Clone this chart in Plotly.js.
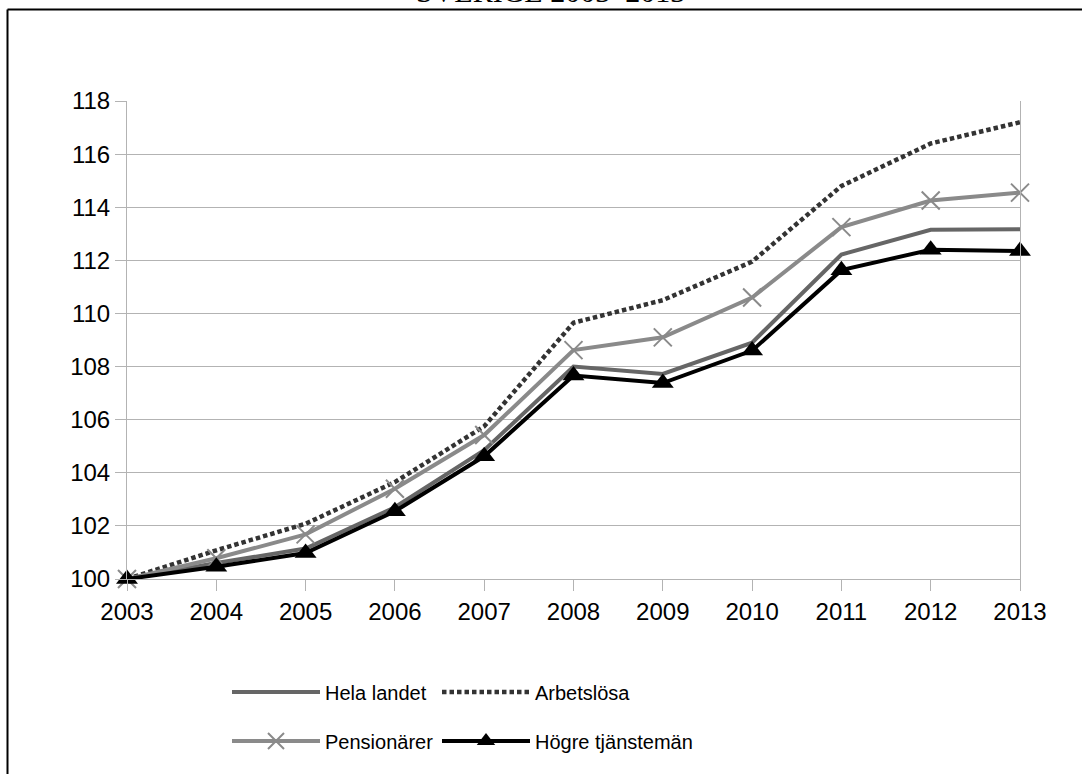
<!DOCTYPE html>
<html>
<head>
<meta charset="utf-8">
<script src="https://cdn.plot.ly/plotly-3.0.1.min.js"></script>
<style>html,body{margin:0;padding:0;background:#fff;overflow:hidden;}#chart{width:1082px;height:774px;}</style>
</head>
<body>
<div id="chart"></div>
<script>
const years = [2003, 2004, 2005, 2006, 2007, 2008, 2009, 2010, 2011, 2012, 2013];
const helaLandet = [100, 100.6, 101.15, 102.7, 104.85, 108.0, 107.72, 108.9, 112.22, 113.15, 113.17];
const arbetslosa = [100, 101.08, 102.08, 103.65, 105.75, 109.65, 110.5, 111.95, 114.8, 116.4, 117.2];
const pensionarer = [100, 100.78, 101.68, 103.4, 105.42, 108.62, 109.1, 110.6, 113.25, 114.25, 114.55];
const hogreTjanstemän = [100, 100.46, 100.98, 102.55, 104.62, 107.66, 107.38, 108.6, 111.63, 112.4, 112.35];
const seriesNames = ["Hela landet", "Arbetslösa", "Pensionärer", "Högre tjänstemän"];
const yTicks = [100, 102, 104, 106, 108, 110, 112, 114, 116, 118];
const chartTitle = "SVERIGE 2003–2013";

const FONT = "Liberation Sans, Arial, sans-serif";

const traces = [
  {x: years, y: helaLandet, name: seriesNames[0], type: "scatter", mode: "lines",
   line: {color: "#666666", width: 4}, legend: "legend", legendwidth: 107, cliponaxis: false},
  {x: years, y: arbetslosa, name: seriesNames[1], type: "scatter", mode: "lines",
   line: {color: "#333333", width: 4.5, dash: "4.5px,3px"}, legend: "legend", legendwidth: 300, cliponaxis: false},
  {x: years, y: pensionarer, name: seriesNames[2], type: "scatter", mode: "lines+markers",
   line: {color: "#8a8a8a", width: 4},
   marker: {symbol: "x-thin-open", size: 18, color: "#8a8a8a", line: {color: "#8a8a8a", width: 2}},
   legend: "legend2", legendwidth: 107, cliponaxis: false},
  {x: years, y: hogreTjanstemän, name: seriesNames[3], type: "scatter", mode: "lines+markers",
   line: {color: "#000000", width: 4},
   marker: {symbol: "triangle-up", size: 19, color: "#000000"},
   legend: "legend2", legendwidth: 300, cliponaxis: false}
];

const legendCommon = {
  orientation: "h", xref: "paper", yref: "paper", xanchor: "left", yanchor: "middle",
  font: {family: FONT, size: 20, color: "#000"}, itemwidth: 88,
  entrywidthmode: "pixels", bgcolor: "rgba(0,0,0,0)", borderwidth: 0,
  itemclick: false, itemdoubleclick: false
};

const layout = {
  width: 1082, height: 774,
  paper_bgcolor: "#ffffff", plot_bgcolor: "#ffffff",
  margin: {l: 127, r: 62, t: 101, b: 195, autoexpand: false},
  font: {family: FONT, size: 24, color: "#000"},
  xaxis: {
    type: "linear", range: [2003, 2013], tickvals: years, ticktext: years.map(String),
    showgrid: false, zeroline: false, showline: true, linecolor: "#b3b3b3", linewidth: 1,
    ticks: "outside", ticklen: 11, tickcolor: "#b3b3b3", tickwidth: 1,
    tickfont: {family: FONT, size: 24, color: "#000"}, fixedrange: true
  },
  yaxis: {
    range: [100, 118], tickvals: yTicks, ticktext: yTicks.map(String),
    showgrid: true, gridcolor: "#b3b3b3", gridwidth: 1, zeroline: false,
    showline: true, mirror: true, linecolor: "#b3b3b3", linewidth: 1,
    ticks: "outside", ticklen: 11, tickcolor: "#b3b3b3", tickwidth: 1,
    tickfont: {family: FONT, size: 24, color: "#000"}, fixedrange: true
  },
  legend: Object.assign({}, legendCommon, {x: (227 - 127) / 893, y: (579 - 692) / 478}),
  legend2: Object.assign({}, legendCommon, {x: (227 - 127) / 893, y: (579 - 741) / 478}),
  showlegend: true,
  shapes: [
    {type: "line", xref: "paper", yref: "paper",
     x0: (7.5 - 127) / 893, x1: 1.3, y0: (579 - 9.5) / 478, y1: (579 - 9.5) / 478,
     line: {color: "#000000", width: 2}, layer: "above"},
    {type: "line", xref: "paper", yref: "paper",
     x0: (7.5 - 127) / 893, x1: (7.5 - 127) / 893, y0: (579 - 9.5) / 478, y1: -1.0,
     line: {color: "#000000", width: 2}, layer: "above"}
  ],
  annotations: [{
    text: chartTitle, xref: "paper", yref: "paper",
    x: (550 - 127) / 893, y: (579 - 10) / 478, xanchor: "center", yanchor: "bottom",
    showarrow: false, font: {family: "Liberation Serif, Times New Roman, serif", size: 30, color: "#000"}
  }]
};

Plotly.newPlot("chart", traces, layout, {displayModeBar: false, staticPlot: true});
</script>
</body>
</html>
